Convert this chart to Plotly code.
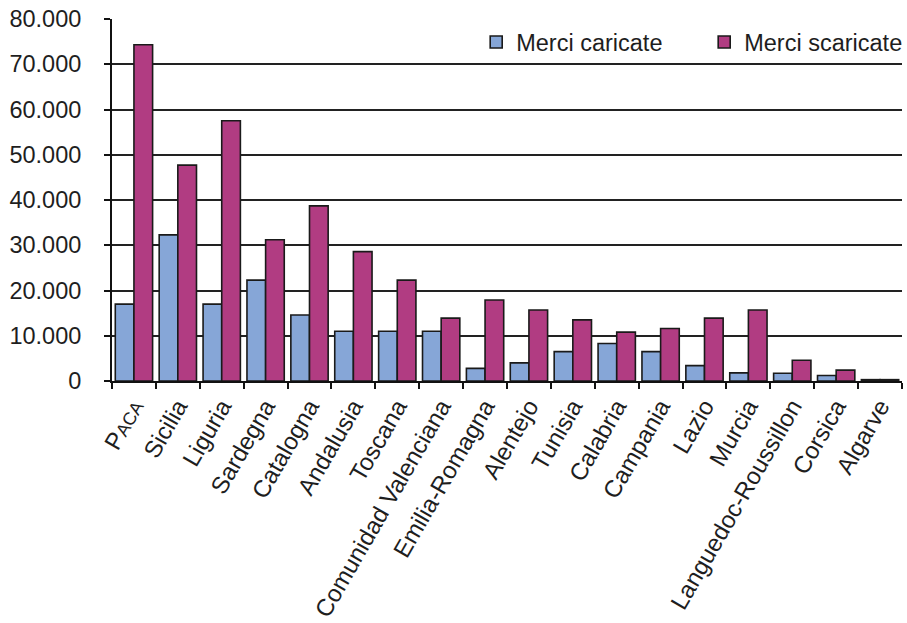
import plotly.graph_objects as go

# Regioni portuali e traffico merci (tonnellate x 1000)
regions = [
    "P<span style='font-size:18px'>ACA</span>", "Sicilia", "Liguria", "Sardegna",
    "Catalogna", "Andalusia", "Toscana", "Comunidad Valenciana",
    "Emilia-Romagna", "Alentejo", "Tunisia", "Calabria", "Campania",
    "Lazio", "Murcia", "Languedoc-Roussillon", "Corsica", "Algarve",
]
caricate = [17000, 32300, 17000, 22300, 14600, 11000, 11000, 11000,
            2800, 4000, 6500, 8300, 6500, 3400, 1800, 1700, 1200, 300]
scaricate = [74300, 47700, 57500, 31200, 38700, 28600, 22300, 13900,
             17900, 15700, 13500, 10800, 11600, 13900, 15700, 4600, 2400, 300]
y_ticks = list(range(0, 80001, 10000))

FONT = "Liberation Sans, Arial, Helvetica, sans-serif"
INK = "#1e1e1e"

fig = go.Figure()
fig.add_trace(go.Bar(
    name="Merci caricate", x=regions, y=caricate,
    marker=dict(color="#86a6d7", line=dict(color="#1a1a1a", width=1.6)),
))
fig.add_trace(go.Bar(
    name="Merci scaricate", x=regions, y=scaricate,
    marker=dict(color="#b13c82", line=dict(color="#1a1a1a", width=1.6)),
))

fig.update_layout(
    width=907, height=623,
    margin=dict(l=112, r=5, t=19, b=242, autoexpand=False),
    paper_bgcolor="white", plot_bgcolor="white",
    separators=",.",
    barmode="group", bargap=0.15, bargroupgap=0.0,
    font=dict(family=FONT, size=23, color=INK),
    showlegend=True,
    legend=dict(
        orientation="h", x=0.461, xanchor="left", y=0.936, yanchor="middle",
        font=dict(size=23.5, color=INK), bgcolor="rgba(0,0,0,0)",
        itemwidth=30, traceorder="normal", entrywidth=183,
    ),
    xaxis=dict(
        type="category", tickangle=-60,
        showline=True, linecolor="#111", linewidth=2,
        ticks="outside", tickson="boundaries", ticklen=6,
        tickcolor="#111", tickwidth=1.5,
        showgrid=False, tickfont=dict(size=24, color=INK),
    ),
    yaxis=dict(
        range=[0, 80000], tickvals=y_ticks, tickformat=",.0f",
        showline=True, linecolor="#111", linewidth=2,
        ticks="outside", ticklen=6, tickcolor="#111", tickwidth=1.5,
        showgrid=True, gridcolor="#222", gridwidth=2,
        zeroline=False, ticklabelstandoff=18,
        tickfont=dict(size=23.5, color=INK),
    ),
)

fig.write_html("out.html")
